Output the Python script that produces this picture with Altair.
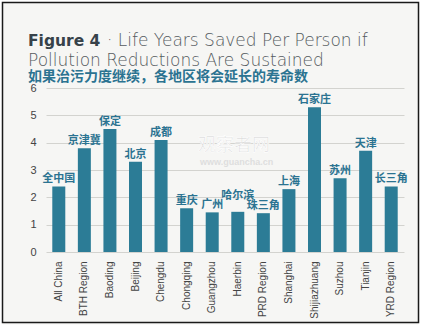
import altair as alt
import pandas as pd

categories = ["All China", "BTH Region", "Baoding", "Beijing", "Chengdu", "Chongqing",
              "Guangzhou", "Haerbin", "PRD Region", "Shanghai", "Shijiazhuang",
              "Suzhou", "Tianjin", "YRD Region"]
labels_cn = ["全中国", "京津冀", "保定", "北京", "成都", "重庆", "广州", "哈尔滨",
             "珠三角", "上海", "石家庄", "苏州", "天津", "长三角"]
values = [2.4, 3.8, 4.5, 3.3, 4.1, 1.6, 1.45, 1.47, 1.42, 2.3, 5.3, 2.7, 3.7, 2.4]
y_ticks = [0, 1, 2, 3, 4, 5, 6]

df = pd.DataFrame({"cat": categories, "cn": labels_cn, "v": values})

BAR = "#2c7c96"
LBL = "#2b7391"

x = alt.X("cat:N", sort=None, title=None,
          scale=alt.Scale(paddingInner=0.5, paddingOuter=0.25),
          axis=alt.Axis(labelAngle=-90, labelFont="Liberation Sans", labelFontSize=10,
                        labelColor="#444", labelPadding=9, ticks=False, domain=False,
                        labelAlign="right", labelBaseline="middle"))
y = alt.Y("v:Q", title=None, scale=alt.Scale(domain=[0, 6], nice=False),
          axis=alt.Axis(values=y_ticks, labelFont="Liberation Sans", labelFontSize=11,
                        labelColor="#444", labelPadding=10, ticks=False, domain=False,
                        labelOverlap=False, grid=True, gridColor="#d3d3cf", gridWidth=1.2))

base = alt.Chart(df)
bars = base.mark_bar(color=BAR, size=13).encode(x=x, y=y)

txt_style = dict(font="Noto Sans CJK SC", fontWeight="bold", fontSize=11,
                 color=LBL, baseline="middle", align="center")
labels = base.mark_text(dy=-7, **txt_style).encode(
    x=x, y=y, text="cn:N"
).transform_filter(alt.datum.cat != "Haerbin")
labels_hb = base.mark_text(dy=-16, **txt_style).encode(
    x=x, y=y, text="cn:N"
).transform_filter(alt.datum.cat == "Haerbin")

one = alt.Data(values=[{}])
deco = alt.Chart(one)

border_white = deco.mark_rect(fillOpacity=0, stroke="white", strokeWidth=5).encode(
    x=alt.value(-46), x2=alt.value(375), y=alt.value(-88), y2=alt.value(239))
border = deco.mark_rect(fillOpacity=0, stroke="#1a1a1a", strokeWidth=1.5).encode(
    x=alt.value(-43.5), x2=alt.value(372.5), y=alt.value(-85.5), y2=alt.value(234.5))

t1 = deco.mark_text(text="Figure 4", font="DejaVu Sans", fontWeight="bold", fontSize=15.5,
                    color="#37424a", align="left", baseline="alphabetic").encode(
    x=alt.value(-18), y=alt.value(-42.5))
t2 = deco.mark_text(text="· Life Years Saved Per Person if", font="DejaVu Sans",
                    fontWeight=300, fontSize=17, color="#555b60", align="left",
                    baseline="alphabetic").encode(x=alt.value(61), y=alt.value(-42.5))
t3 = deco.mark_text(text="Pollution Reductions Are Sustained", font="DejaVu Sans",
                    fontWeight=300, fontSize=17, color="#555b60", align="left",
                    baseline="alphabetic").encode(x=alt.value(-18), y=alt.value(-22))
t4 = deco.mark_text(text="如果治污力度继续，各地区将会延长的寿命数", font="Noto Sans CJK SC",
                    fontWeight="bold", fontSize=14, color=LBL, align="left",
                    baseline="alphabetic").encode(x=alt.value(-18), y=alt.value(-7))

wm1 = deco.mark_text(text="观察者网", font="Noto Sans CJK SC", fontSize=18,
                     color="#d9d9d9", stroke="white", strokeWidth=0.6, align="left",
                     baseline="middle").encode(x=alt.value(152), y=alt.value(58))
wm2 = deco.mark_text(text="www.guancha.cn", font="Liberation Sans", fontWeight="bold",
                     fontSize=9, color="#dedede", align="left",
                     baseline="middle").encode(x=alt.value(154), y=alt.value(74))

chart = alt.layer(
    bars, wm1, wm2, labels, labels_hb, t1, t2, t3, t4, border_white, border
).properties(
    width=358, height=164,
    padding={"left": 46, "top": 88, "right": 17, "bottom": 75},
    autosize=alt.AutoSizeParams(type="none"),
    background="#f6f6f4",
).configure_view(stroke=None)

chart.save("out.html", embed_options={"renderer": "svg", "actions": False})
